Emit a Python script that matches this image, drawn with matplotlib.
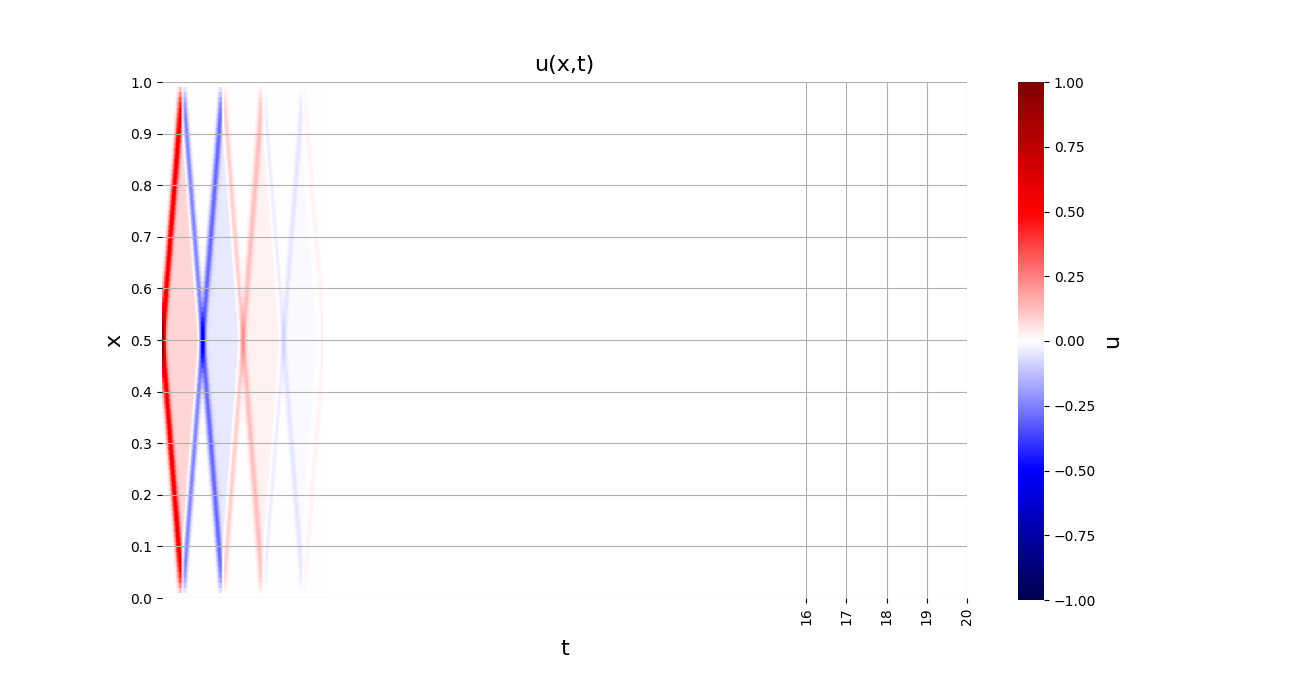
import numpy as np
import matplotlib.pyplot as plt

# front amplitude of each travelling pulse, one value per leg between reflections
front_edges = [0.0, 0.5, 1.5, 2.5, 3.5, 4.0]
front_mag = [0.52, 0.28, 0.11, 0.045, 0.02]
# plateau left behind inside each diamond
wake_edges = [0.0, 1.0, 2.0, 3.0, 4.0]
wake_mag = [0.08, 0.05, 0.025, 0.012]
background = 0.004
pulse_width = 0.075
t_end = 4.0

x_ticks = [16, 17, 18, 19, 20]
y_ticks = [0.0, 0.1, 0.2, 0.3, 0.4, 0.5, 0.6, 0.7, 0.8, 0.9, 1.0]
cbar_ticks = [-1.0, -0.75, -0.5, -0.25, 0.0, 0.25, 0.5, 0.75, 1.0]


def step_value(t, edges, vals):
    idx = np.clip(np.searchsorted(edges, t, side='right') - 1, 0, len(vals) - 1)
    return np.asarray(vals)[idx]


def build_field():
    x = np.linspace(0, 1, 101)
    t = np.arange(0, t_end, 0.01)
    T, X = np.meshgrid(t, x)
    fm = step_value(T, front_edges, front_mag)
    wm = step_value(T, wake_edges, wake_mag)
    u = np.zeros_like(T) + background
    # mirror sources give the reflections at x=0 and x=1
    for n in range(-3, 4):
        for c, s in ((0.5 + 2 * n, 1.0), (-0.5 + 2 * n, -1.0)):
            pulse = np.exp(-((X - c - T) / pulse_width) ** 2) + np.exp(-((X - c + T) / pulse_width) ** 2)
            inside = 0.5 * (1 + np.tanh((T - np.abs(X - c)) / 0.03))
            u += s * (fm * pulse + wm * inside)
    return u


def main():
    u = build_field()

    fig = plt.figure(figsize=(12.99, 6.77), dpi=100)
    W, H = 1299, 677
    ax = fig.add_axes([162 / W, 1 - 598 / H, (967 - 162) / W, (598 - 82) / H])
    cax = fig.add_axes([1018 / W, 1 - 600 / H, 26 / W, (600 - 82) / H])

    im = ax.imshow(u, extent=[0, t_end, 0, 1], origin='lower', aspect='auto',
                   cmap='seismic', vmin=-1, vmax=1, interpolation='nearest')
    ax.set_xlim(0, 20)
    ax.set_ylim(0, 1)
    ax.set_xticks(x_ticks)
    ax.set_xticklabels([str(v) for v in x_ticks], rotation=90)
    ax.set_yticks(y_ticks)
    ax.set_yticklabels([f"{v:.1f}" for v in y_ticks])
    ax.grid(True, color='#b0b0b0', linewidth=0.8)
    for sp in ax.spines.values():
        sp.set_visible(False)
    ax.set_title("u(x,t)", fontsize=16, pad=8)
    ax.set_xlabel("t", fontsize=16, labelpad=10)
    ax.set_ylabel("x", fontsize=16)

    cbar = fig.colorbar(im, cax=cax, ticks=cbar_ticks)
    cbar.ax.set_yticklabels([f"{v:.2f}".replace('-', '\u2212') for v in cbar_ticks])
    cbar.outline.set_visible(False)
    cbar.set_label("u", fontsize=16)

    fig.savefig("out.png", dpi=100)


if __name__ == "__main__":
    main()
